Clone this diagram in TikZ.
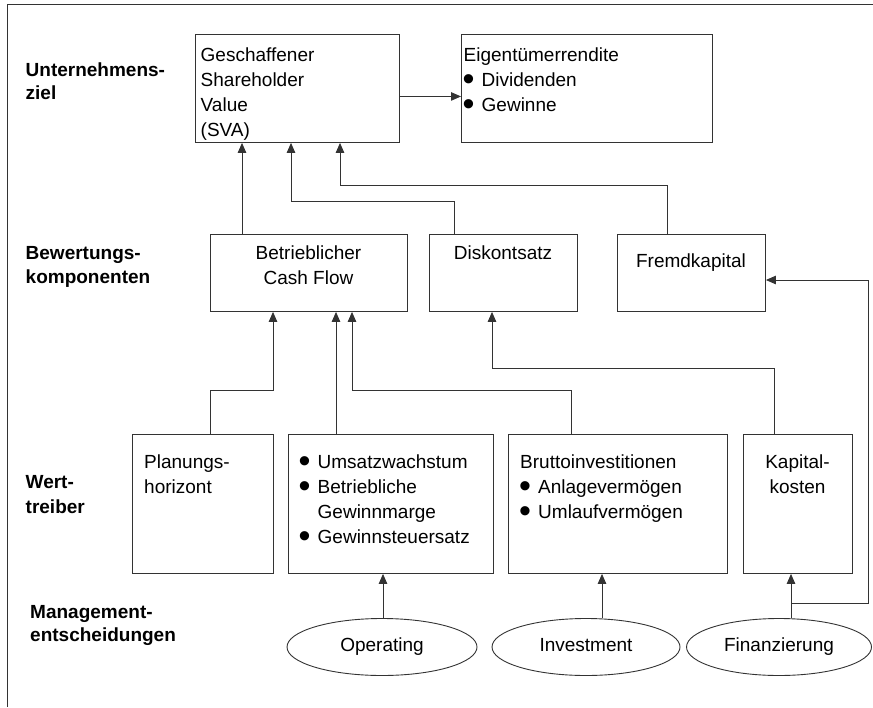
\documentclass[tikz,border=0pt]{standalone}
\usepackage{fontspec}
\setmainfont{Liberation Sans}
\usetikzlibrary{arrows.meta,shapes.geometric}
% round bullet for the item lists
\newcommand\bul{\makebox[18pt][l]{\hspace{-1pt}\smash{\raisebox{-4.2pt}{\fontsize{34}{34}\selectfont\textbullet}}}}
\tikzset{
  ln/.style={draw=black!80, line width=0.9pt},
  box/.style={ln, rectangle, anchor=north west, inner sep=0pt},
  ell/.style={ln, ellipse, inner sep=0pt, minimum height=57pt, text height=13pt, text depth=5pt, font=\fontsize{19}{25}\selectfont},
  txt/.style={anchor=north west, inner sep=0pt, align=left, font=\fontsize{19}{25}\selectfont},
  ctxt/.style={anchor=north, inner sep=0pt, align=center, font=\fontsize{19}{25}\selectfont},
  lbl/.style={anchor=north west, inner sep=0pt, align=left, font=\bfseries\fontsize{19}{#1}\selectfont},
  arr/.style={ln, -{Triangle[length=10pt,width=8.5pt]}}
}
\begin{document}
\begin{tikzpicture}[x=1pt, y=-1pt]
\useasboundingbox (0,0) rectangle (873,707);
% outer frame (top and left edge)
\draw[ln] (7,707) -- (7,4) -- (873,4);

% row labels
\node[lbl=22.5] (l1) at (25.5,63) {Unternehmens-\\ziel};
\node[lbl=24]   (l2) at (25.5,246.3) {Bewertungs-\\komponenten};
\node[lbl=25.5] (l3) at (25.5,474.8) {Wert-\\treiber};
\node[lbl=23.5] (l4) at (30,604.8) {Management-\\entscheidungen};

% goal level
\node[box, minimum width=204pt, minimum height=108pt] (sva) at (195,34) {};
\node[txt] (sva-t) at (200.5,47.3) {Geschaffener\\Shareholder\\Value\\(SVA)};
\node[box, minimum width=251pt, minimum height=108pt] (eig) at (461,34) {};
\node[txt] (eig-t) at (463.5,47.3) {Eigentümerrendite\\\bul Dividenden\\\bul Gewinne};

% valuation components
\node[box, minimum width=197pt, minimum height=77pt] (bcf) at (210,234) {};
\node[ctxt] (bcf-t) at (308.5,245.3) {Betrieblicher\\Cash Flow};
\node[box, minimum width=148pt, minimum height=77pt] (dis) at (429,234) {};
\node[ctxt] (dis-t) at (503,245.3) {Diskontsatz};
\node[box, minimum width=148pt, minimum height=77pt] (fk) at (617,234) {};
\node[ctxt] (fk-t) at (691,253.3) {Fremdkapital};

% value drivers
\node[box, minimum width=141pt, minimum height=139pt] (ph) at (132,434) {};
\node[txt] (ph-t) at (144,454.3) {Planungs-\\horizont};
\node[box, minimum width=205pt, minimum height=139pt] (um) at (288,434) {};
\node[txt] (um-t) at (299.5,454.3) {\bul Umsatzwachstum\\\bul Betriebliche\\\hspace*{18pt}Gewinnmarge\\\bul Gewinnsteuersatz};
\node[box, minimum width=219pt, minimum height=139pt] (bi) at (508,434) {};
\node[txt] (bi-t) at (520,454.3) {Bruttoinvestitionen\\\bul Anlagevermögen\\\bul Umlaufvermögen};
\node[box, minimum width=109pt, minimum height=139pt] (kk) at (743,434) {};
\node[ctxt] (kk-t) at (797.5,454.3) {Kapital-\\kosten};

% management decisions
\node[ell, minimum width=190pt] (op)  at (382,647) {Operating};
\node[ell, minimum width=188pt] (inv) at (586,647) {Investment};
\node[ell, minimum width=185pt] (fin) at (779,647) {Finanzierung};

% connectors
\draw[arr] ([yshift=-8pt]sva.east) -- ([yshift=-8pt]eig.west);
\draw[arr] (bcf.north -| 242,0) -- (sva.south -| 242,0);
\draw[arr] (dis.north -| 454,0) -- (454,201) -- (291,201) -- (sva.south -| 291,0);
\draw[arr] (fk.north -| 667,0) -- (667,185) -- (340,185) -- (sva.south -| 340,0);
\draw[arr] (ph.north -| 210,0) -- (210,390) -- (273,390) -- (bcf.south -| 273,0);
\draw[arr] (um.north -| 336,0) -- (bcf.south -| 336,0);
\draw[arr] (bi.north -| 571,0) -- (571,390) -- (352,390) -- (bcf.south -| 352,0);
\draw[arr] (kk.north -| 774,0) -- (774,368) -- (492,368) -- (dis.south -| 492,0);
\draw[arr] (op.north -| 383,0) -- (um.south -| 383,0);
\draw[arr] (inv.north -| 602,0) -- (bi.south -| 602,0);
\draw[arr] (fin.north -| 791,0) -- (kk.south -| 791,0);
\draw[arr] (fin.north -| 791,0) -- (791,603) -- (868,603) -- (868,280) -- (fk.east |- 0,280);
\end{tikzpicture}
\end{document}
